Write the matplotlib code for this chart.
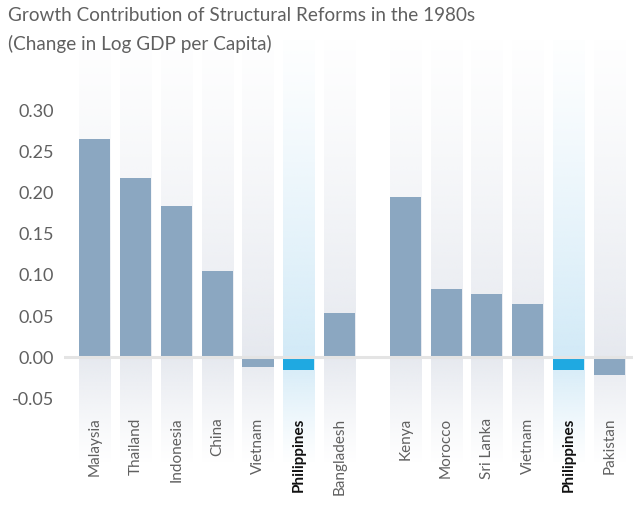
import matplotlib.pyplot as plt
import numpy as np
from matplotlib.colors import to_rgb

# data
countries = ["Malaysia", "Thailand", "Indonesia", "China", "Vietnam", "Philippines", "Bangladesh",
             "Kenya", "Morocco", "Sri Lanka", "Vietnam", "Philippines", "Pakistan"]
values = [0.265, 0.217, 0.184, 0.105, -0.0115, -0.016, 0.054,
          0.194, 0.083, 0.077, 0.065, -0.016, -0.022]
positions = [0, 1, 2, 3, 4, 5, 6, 7.6, 8.6, 9.6, 10.6, 11.6, 12.6]
highlight = "Philippines"

plt.rcParams['font.family'] = ['Lato', 'DejaVu Sans']

fig = plt.figure(figsize=(6.33, 5.29), dpi=100)
ax = fig.add_axes([0.1011, 0.1267, 0.899, 0.7977])

ylo, yhi = -0.127, 0.385
ax.set_xlim(-0.746, 13.175)
ax.set_ylim(ylo, yhi)

w = 0.76
# gradient background columns
ys = np.linspace(yhi, ylo, 300)
alpha = np.where(ys >= 0, 1 - ys / yhi, 1 - ys / ylo)
alpha = 0.03 + 0.97 * alpha ** 1.2
for x, c in zip(positions, countries):
    col = to_rgb("#d2eaf7") if c == highlight else to_rgb("#e6e9ef")
    img = np.ones((300, 1, 4))
    img[:, 0, :3] = col
    img[:, 0, 3] = alpha
    ax.imshow(img, extent=[x - w / 2, x + w / 2, ylo, yhi], aspect='auto', zorder=1)

colors = ["#1fa9e1" if c == highlight else "#8ba7c1" for c in countries]
ax.bar(positions, values, width=w, color=colors, zorder=2)
ax.axhline(0, color="#e4e4e4", lw=2.2, zorder=3)

for x, c in zip(positions, countries):
    bold = c == highlight
    ax.text(x, -0.073, c, rotation=90, ha='center', va='top', fontsize=11,
            color="#111111" if bold else "#606060",
            fontweight='bold' if bold else 'normal', zorder=4)

ax.set_xticks([])
ax.set_yticks([-0.05, 0, 0.05, 0.10, 0.15, 0.20, 0.25, 0.30])
ax.set_yticklabels(["-0.05", "0.00", "0.05", "0.10", "0.15", "0.20", "0.25", "0.30"])
ax.tick_params(axis='y', length=0, pad=7, labelsize=13, labelcolor="#606060")
for s in ax.spines.values():
    s.set_visible(False)

fig.text(0.012, 0.986, "Growth Contribution of Structural Reforms in the 1980s", ha='left', va='top',
         fontsize=13.6, color="#606060")
fig.text(0.012, 0.934, "(Change in Log GDP per Capita)", ha='left', va='top',
         fontsize=13.6, color="#606060")

fig.savefig("out.png", dpi=100)
